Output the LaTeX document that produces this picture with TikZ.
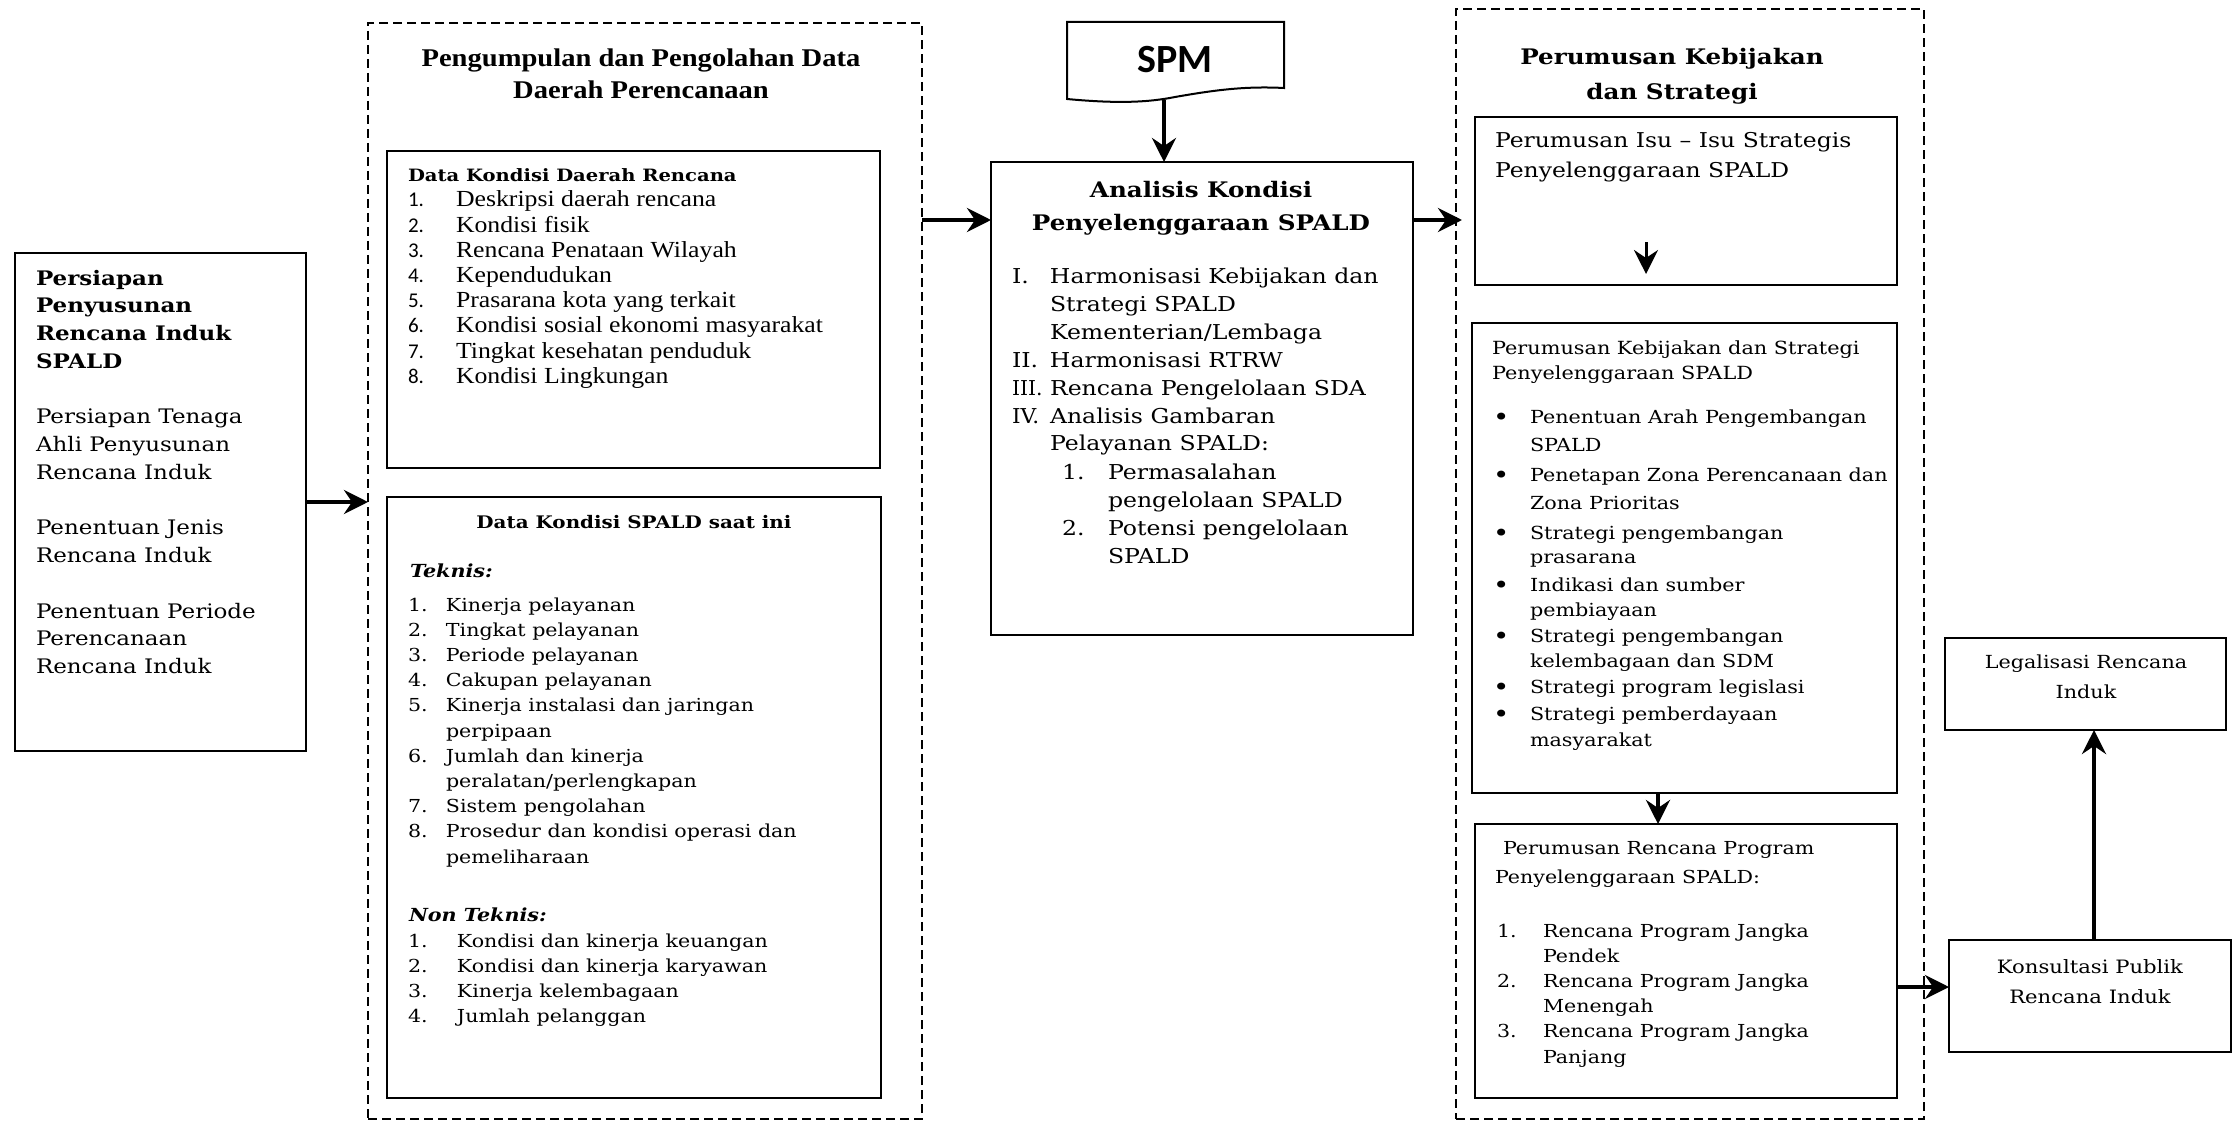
\documentclass[tikz,border=0pt]{standalone}
\usepackage{fontspec}
\usepackage{graphicx}
\newfontfamily\bkm{DejaVu Serif}[FakeStretch=1.15]
\newfontfamily\cmb{Liberation Serif}[FakeStretch=1.12]
\newfontfamily\clb{Carlito}
\usetikzlibrary{arrows.meta,fit}
\newcommand\fs[2]{\fontsize{#1}{#2}\selectfont}
\newcommand\tl[1]{\begin{tabular}[t]{@{}l@{}}#1\end{tabular}}
\newcommand\tc[1]{\begin{tabular}[t]{@{}c@{}}#1\end{tabular}}
\newcommand\nm[2]{\makebox[#1][l]{#2}}
\newcommand\dn[2]{\nm{48pt}{\clb\fontsize{21}{25}\selectfont #1}#2}
\newcommand\bul{\nm{37pt}{\fontsize{24}{25}\selectfont\raisebox{-2pt}{•}}}
\begin{document}
\begin{tikzpicture}[x=1pt,y=-1pt,
  box/.style={draw, line width=2pt, inner sep=0pt, outer sep=0pt},
  dbox/.style={draw, line width=1.5pt, dash pattern=on 9pt off 5pt, inner sep=0pt, outer sep=0pt},
  arr/.style={line width=4pt, -{Stealth[length=24pt,width=24pt,inset=8pt]}},
  txt/.style={inner sep=0pt, outer sep=0pt, anchor=base west},
  ctxt/.style={inner sep=0pt, outer sep=0pt, anchor=base}]
\path[use as bounding box, fill=white] (0,0) rectangle (2239,1121);

% boxes
\node[box, fit={(15,253)(306,751)}] (left) {};
\node[dbox, fit={(368,23)(922,1119)}] (dash1) {};
\node[box, fit={(387,151)(880,468)}] (dkdr) {};
\node[box, fit={(387,497)(881,1098)}] (dksp) {};
\node[box, fit={(991,162)(1413,635)}] (ana) {};
\node[dbox, fit={(1456,9)(1924,1119)}] (dash2) {};
\node[box, fit={(1475,117)(1897,285)}] (isu) {};
\node[box, fit={(1472,323)(1897,793)}] (keb) {};
\node[box, fit={(1475,824)(1897,1098)}] (ren) {};
\node[box, fit={(1945,638)(2226,730)}] (leg) {};
\node[box, fit={(1949,940)(2231,1052)}] (kon) {};

% SPM document shape
\draw[line width=2pt, line join=miter] (1067,99) -- (1067,22) -- (1284,22) -- (1284,88)
  .. controls (1245,86) and (1215,90) .. (1175,97)
  .. controls (1150,102) and (1120,104) .. (1067,99) -- cycle;
\node[ctxt] (spm) at (1175,73) {\clb\bfseries\fs{40}{48}SPM};

% left box text
\node[txt] (tleft) at (36,285) {\bkm\fs{20}{27.75}\tl{\textbf{Persiapan}\\\textbf{Penyusunan}\\\textbf{Rencana Induk}\\\textbf{SPALD}\\ \\Persiapan Tenaga\\Ahli Penyusunan\\Rencana Induk\\ \\Penentuan Jenis\\Rencana Induk\\ \\Penentuan Periode\\Perencanaan\\Rencana Induk}};

% dashed box 1
\node[ctxt] (t1) at (641,67) {\cmb\bfseries\fs{25.5}{32}\tc{Pengumpulan dan Pengolahan Data\\Daerah Perencanaan}};
\node[txt] (t2) at (408,182) {\bkm\bfseries\fs{17}{25}Data Kondisi Daerah Rencana};
\node[txt] (t3) at (408,207) {\cmb\fs{23}{25.2}\tl{\dn{1.}{Deskripsi daerah rencana}\\\dn{2.}{Kondisi fisik}\\\dn{3.}{Rencana Penataan Wilayah}\\\dn{4.}{Kependudukan}\\\dn{5.}{Prasarana kota yang terkait}\\\dn{6.}{Kondisi sosial ekonomi masyarakat}\\\dn{7.}{Tingkat kesehatan penduduk}\\\dn{8.}{Kondisi Lingkungan}}};

\node[ctxt] (t4) at (634,528) {\bkm\bfseries\fs{17.3}{25}Data Kondisi SPALD saat ini};
\node[txt] (t5) at (410,577) {\bkm\bfseries\itshape\fs{18}{25}Teknis:};
\node[txt] (t6) at (408,611) {\bkm\fs{17.9}{25.2}\tl{\nm{38pt}{1.}Kinerja pelayanan\\ \nm{38pt}{2.}Tingkat pelayanan\\ \nm{38pt}{3.}Periode pelayanan\\ \nm{38pt}{4.}Cakupan pelayanan\\ \nm{38pt}{5.}Kinerja instalasi dan jaringan\\ \nm{38pt}{}perpipaan\\ \nm{38pt}{6.}Jumlah dan kinerja\\ \nm{38pt}{}peralatan/perlengkapan\\ \nm{38pt}{7.}Sistem pengolahan\\ \nm{38pt}{8.}Prosedur dan kondisi operasi dan\\ \nm{38pt}{}pemeliharaan}};
\node[txt] (t7) at (409,921) {\bkm\bfseries\itshape\fs{18}{25}Non Teknis:};
\node[txt] (t8) at (408,947) {\bkm\fs{17.9}{25.2}\tl{\nm{49pt}{1.}Kondisi dan kinerja keuangan\\ \nm{49pt}{2.}Kondisi dan kinerja karyawan\\ \nm{49pt}{3.}Kinerja kelembagaan\\ \nm{49pt}{4.}Jumlah pelanggan}};

% analisis
\node[ctxt] (t9) at (1201,197) {\bkm\bfseries\fs{21.4}{33}\tc{Analisis Kondisi\\Penyelenggaraan SPALD}};
\node[txt] (t10) at (1012,283) {\bkm\fs{20.5}{28}\tl{\nm{38pt}{I.}Harmonisasi Kebijakan dan\\ \nm{38pt}{}Strategi SPALD\\ \nm{38pt}{}Kementerian/Lembaga\\ \nm{38pt}{II.}Harmonisasi RTRW\\ \nm{38pt}{\scalebox{0.86}[1]{III.}}Rencana Pengelolaan SDA\\ \nm{38pt}{\scalebox{0.92}[1]{IV.}}Analisis Gambaran\\ \nm{38pt}{}Pelayanan SPALD:\\ \hspace*{50pt}\nm{46pt}{1.}Permasalahan\\ \hspace*{96pt}pengelolaan SPALD\\ \hspace*{50pt}\nm{46pt}{2.}Potensi pengelolaan\\ \hspace*{96pt}SPALD}};

% dashed box 2
\node[ctxt] (t11) at (1672,65) {\bkm\bfseries\fs{21.4}{35}\tc{Perumusan Kebijakan\\dan Strategi}};
\node[txt] (t12) at (1495,148) {\bkm\fs{20.4}{30}\tl{Perumusan Isu – Isu Strategis\\Penyelenggaraan SPALD}};
\node[txt] (t13) at (1492,354) {\bkm\fs{18.1}{25}\tl{Perumusan Kebijakan dan Strategi\\Penyelenggaraan SPALD}};
\node[txt] (t14) at (1493,423) {\bkm\fs{18}{25}\tl{\bul Penentuan Arah Pengembangan\\[3pt] \nm{37pt}{}SPALD\\[5pt] \bul Penetapan Zona Perencanaan dan\\[3pt] \nm{37pt}{}Zona Prioritas\\[5pt] \bul Strategi pengembangan\\[-1pt] \nm{37pt}{}prasarana\\[3pt] \bul Indikasi dan sumber\\ \nm{37pt}{}pembiayaan\\[1pt] \bul Strategi pengembangan\\ \nm{37pt}{}kelembagaan dan SDM\\[1pt] \bul Strategi program legislasi\\[2pt] \bul Strategi pemberdayaan\\[1pt] \nm{37pt}{}masyarakat}};
\node[txt] (t15) at (1503,854) {\bkm\fs{17.9}{29}Perumusan Rencana Program};
\node[txt] (t16) at (1495,883) {\bkm\fs{17.9}{29}Penyelenggaraan SPALD:};
\node[txt] (t17) at (1497,937) {\bkm\fs{17.9}{25.2}\tl{\nm{46pt}{1.}Rencana Program Jangka\\ \nm{46pt}{}Pendek\\ \nm{46pt}{2.}Rencana Program Jangka\\ \nm{46pt}{}Menengah\\ \nm{46pt}{3.}Rencana Program Jangka\\ \nm{46pt}{}Panjang}};

% right boxes
\node[ctxt] (t18) at (2086,668) {\bkm\fs{18}{30}\tc{Legalisasi Rencana\\Induk}};
\node[ctxt] (t19) at (2090,973) {\bkm\fs{18.4}{30}\tc{Konsultasi Publik\\Rencana Induk}};

% connectors
\draw[arr] (left.east) -- (left.east -| dash1.west);
\coordinate (c1) at (922,220);
\draw[arr] (c1) -- (c1 -| ana.west);
\coordinate (spmout) at (1164,100);
\draw[arr] (spmout) -- (spmout |- ana.north);
\coordinate (c2) at (1462,220);
\draw[arr] (ana.east |- c2) -- (c2);
\coordinate (c3) at (1646,242);
\coordinate (c4) at (1646,274);
\draw[arr, line width=3pt] (c3) -- (c4);
\coordinate (c5) at (1658,793);
\draw[arr] (c5) -- (c5 |- ren.north);
\coordinate (c6) at (1897,987);
\draw[arr] (c6) -- (c6 -| kon.west);
\coordinate (c7) at (2094,940);
\draw[arr] (c7) -- (c7 |- leg.south);
\end{tikzpicture}
\end{document}
